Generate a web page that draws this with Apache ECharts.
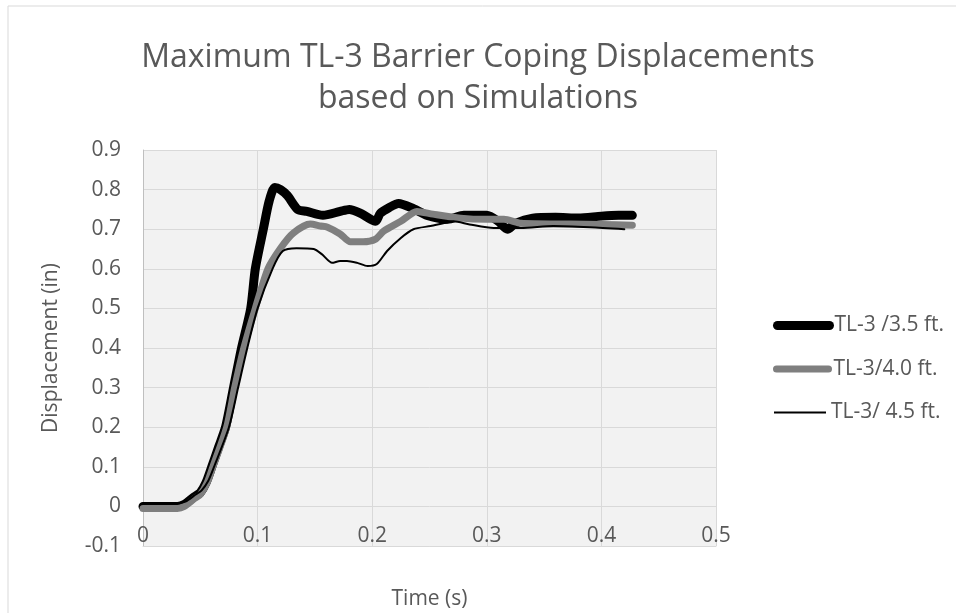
<!DOCTYPE html>
<html>
<head>
<meta charset="utf-8">
<script src="https://cdn.jsdelivr.net/npm/echarts@6/dist/echarts.min.js"></script>
<style>
  html, body { margin: 0; padding: 0; background: #fff; }
  #chart { width: 956px; height: 613px; }
</style>
</head>
<body>
<div id="chart"></div>
<script>
// values (time in s, displacement in in)
const names = ['TL-3 /3.5 ft.', 'TL-3/4.0 ft.', 'TL-3/ 4.5 ft.'];

const t35 = [0, 0.03, 0.036, 0.045, 0.05, 0.055, 0.06, 0.066, 0.072, 0.079, 0.086, 0.094, 0.098, 0.105, 0.11, 0.115, 0.12, 0.126, 0.135, 0.143, 0.157, 0.172, 0.18, 0.19, 0.203, 0.207, 0.215, 0.223, 0.236, 0.248, 0.266, 0.28, 0.3, 0.31, 0.318, 0.325, 0.34, 0.36, 0.38, 0.4, 0.415, 0.427];
const d35 = [0, 0, 0.005, 0.025, 0.035, 0.06, 0.1, 0.15, 0.2, 0.3, 0.4, 0.5, 0.6, 0.7, 0.77, 0.805, 0.8, 0.785, 0.75, 0.745, 0.735, 0.745, 0.75, 0.74, 0.72, 0.74, 0.755, 0.765, 0.752, 0.735, 0.725, 0.735, 0.735, 0.72, 0.7, 0.715, 0.728, 0.73, 0.728, 0.733, 0.735, 0.735];

const t40 = [0, 0.03, 0.036, 0.045, 0.05, 0.056, 0.061, 0.073, 0.08, 0.088, 0.098, 0.109, 0.12, 0.131, 0.146, 0.155, 0.161, 0.172, 0.181, 0.192, 0.203, 0.21, 0.225, 0.239, 0.253, 0.277, 0.3, 0.315, 0.33, 0.373, 0.4, 0.427];
const d40 = [-0.005, -0.005, 0, 0.02, 0.03, 0.06, 0.1, 0.2, 0.3, 0.4, 0.5, 0.6, 0.652, 0.69, 0.713, 0.708, 0.705, 0.688, 0.668, 0.668, 0.675, 0.695, 0.72, 0.745, 0.738, 0.728, 0.725, 0.725, 0.715, 0.713, 0.712, 0.71];

const t45 = [0, 0.03, 0.037, 0.046, 0.051, 0.057, 0.062, 0.075, 0.083, 0.091, 0.1, 0.113, 0.122, 0.134, 0.149, 0.156, 0.165, 0.172, 0.178, 0.187, 0.196, 0.204, 0.213, 0.225, 0.236, 0.251, 0.262, 0.271, 0.285, 0.306, 0.33, 0.358, 0.39, 0.42];
const d45 = [0.008, 0.008, 0.012, 0.03, 0.04, 0.065, 0.1, 0.2, 0.3, 0.4, 0.5, 0.6, 0.645, 0.652, 0.65, 0.637, 0.615, 0.62, 0.62, 0.615, 0.607, 0.612, 0.645, 0.678, 0.7, 0.708, 0.715, 0.72, 0.712, 0.703, 0.703, 0.708, 0.705, 0.7];

const pairs = (t, d) => t.map((x, i) => [x, d[i]]);

const font = 'Open Sans';
const txt = '#595959';
const colors = ['#000', '#7f7f7f', '#000'];
const widths = [9, 7, 2];

// one legend per series, stacked by hand like the Excel legend
const legends = names.map((n, i) => ({
    left: 768,
    top: 310 + i * 43.5,
    itemWidth: 52,
    itemHeight: 14,
    textStyle: { fontFamily: font, fontSize: 21, color: txt },
    data: [{ name: n, itemStyle: { opacity: 0 }, lineStyle: { width: widths[i], cap: i < 2 ? 'round' : 'butt', color: colors[i] } }]
}));

const chart = echarts.init(document.getElementById('chart'));
chart.setOption({
    backgroundColor: '#fff',
    animation: false,
    textStyle: { fontFamily: font },
    graphic: [{
        type: 'rect',
        shape: { x: 8, y: 6, width: 1000, height: 700 },
        style: { fill: 'none', stroke: '#d9d9d9', lineWidth: 1 },
        silent: true
    }],
    title: [
        { text: 'Maximum TL-3 Barrier Coping Displacements', left: 'center', top: 37,
          textStyle: { fontFamily: font, fontSize: 32, fontWeight: 'normal', color: txt } },
        { text: 'based on Simulations', left: 'center', top: 78,
          textStyle: { fontFamily: font, fontSize: 32, fontWeight: 'normal', color: txt } }
    ],
    legend: legends,
    grid: { left: 143, right: 240, top: 150, bottom: 67, show: true, backgroundColor: '#f2f2f2', borderWidth: 0, outerBoundsMode: 'none', containLabel: false },
    xAxis: {
        type: 'value',
        min: 0,
        max: 0.5,
        interval: 0.1,
        name: 'Time (s)',
        nameLocation: 'middle',
        nameGap: 43,
        nameTextStyle: { fontFamily: font, fontSize: 21, color: txt },
        axisLine: { onZero: false, lineStyle: { color: '#d9d9d9' } },
        axisTick: { show: false },
        // Excel puts the labels under the zero line, inside the plot
        axisLabel: { fontFamily: font, fontSize: 21, color: txt, margin: -20, formatter: v => String(+v.toFixed(1)) },
        splitLine: { show: true, lineStyle: { color: '#d9d9d9', width: 1 } }
    },
    yAxis: {
        type: 'value',
        min: -0.1,
        max: 0.9,
        interval: 0.1,
        name: 'Displacement (in)',
        nameLocation: 'middle',
        nameGap: 81,
        nameTextStyle: { fontFamily: font, fontSize: 21, color: txt },
        axisLine: { show: true, onZero: false, lineStyle: { color: '#bfbfbf' } },
        axisTick: { show: false },
        axisLabel: { fontFamily: font, fontSize: 21, color: txt, margin: 22, formatter: v => String(+v.toFixed(1)) },
        splitLine: { show: true, lineStyle: { color: '#d9d9d9', width: 1 } }
    },
    series: names.map((n, i) => ({
        name: n,
        type: 'line',
        data: [pairs(t35, d35), pairs(t40, d40), pairs(t45, d45)][i],
        showSymbol: false,
        symbol: 'none',
        smooth: 0.25,
        lineStyle: { color: colors[i], width: widths[i], cap: 'round', join: 'round' },
        itemStyle: { color: colors[i] }
    }))
});
</script>
</body>
</html>
